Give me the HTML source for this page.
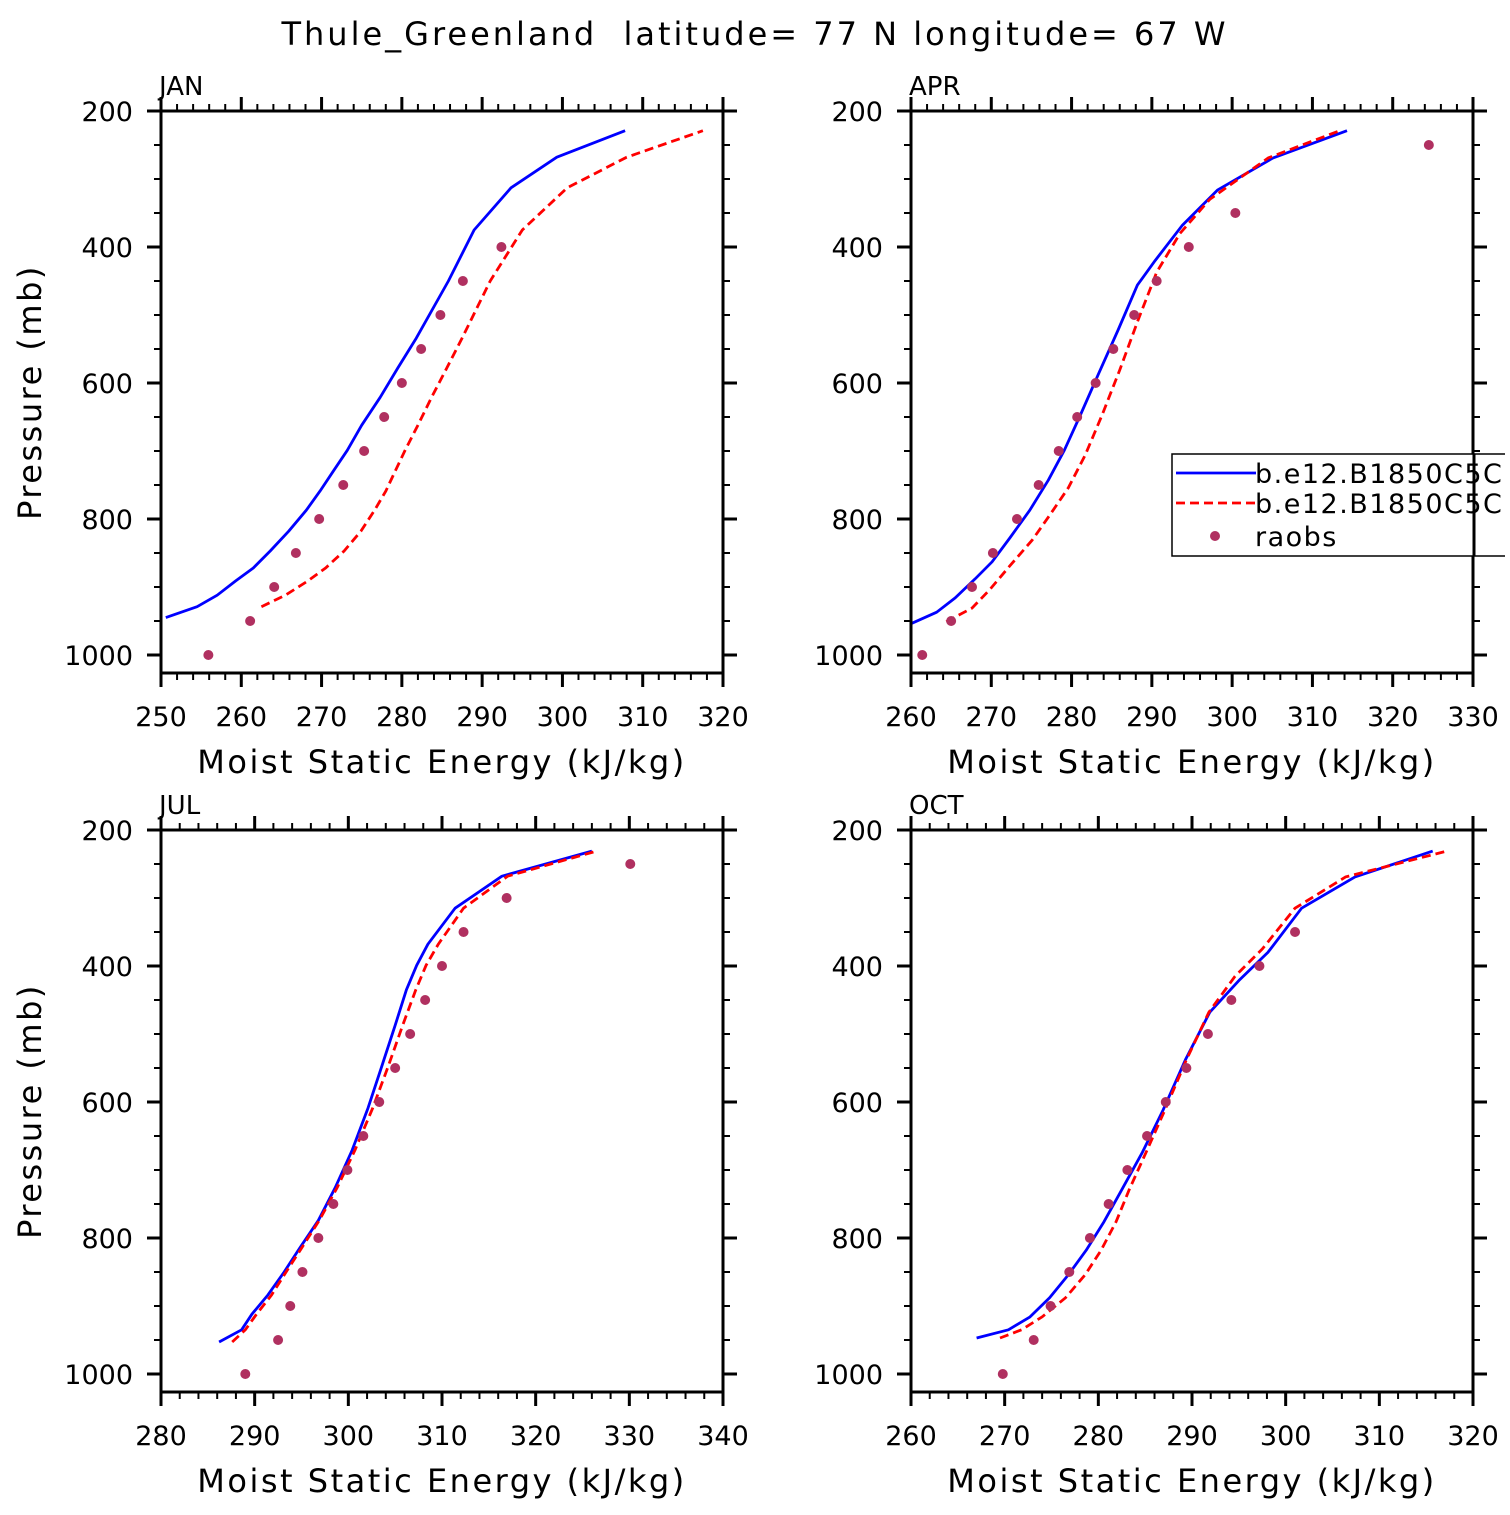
<!DOCTYPE html>
<html><head><meta charset="utf-8"><style>
body{margin:0;background:#fff}
svg text{font-family:"DejaVu Sans","Liberation Sans",sans-serif;fill:#000}
</style></head><body>
<svg id="c" width="1510" height="1510" viewBox="0 0 1510 1510">
<defs><clipPath id="legclip"><rect x="1160" y="440" width="345" height="130"/></clipPath></defs>
<text x="755" y="45" font-size="32" text-anchor="middle" letter-spacing="3" xml:space="preserve">Thule_Greenland  latitude= 77 N longitude= 67 W</text>
</svg>
<script>
const panelNames=["JAN","APR","JUL","OCT"];
const xRanges=[[250,320],[260,330],[280,340],[260,320]];
const obsP=[1000,950,900,850,800,750,700,650,600,550,500,450,400,350,300,250];
const obsJAN=[255.9,261.1,264.1,266.8,269.7,272.7,275.3,277.8,280.0,282.4,284.8,287.6,292.4];
const obsAPR=[261.4,265.0,267.6,270.2,273.2,275.9,278.4,280.7,283.0,285.2,287.8,290.6,294.6,300.4,null,324.5];
const obsJUL=[289.0,292.5,293.8,295.1,296.8,298.4,299.9,301.6,303.3,305.0,306.6,308.2,310.0,312.3,316.9,330.1];
const obsOCT=[269.8,273.1,274.9,276.9,279.1,281.1,283.1,285.2,287.2,289.4,291.7,294.2,297.2,301.0];
const pJAN=[945,929,912,891,872,847,818,787,759,729,699,662,621,578,534,450,375,313,268,229];
const blueJAN=[250.6,254.5,257.0,259.3,261.5,263.6,265.9,268.1,269.8,271.5,273.2,275.0,277.3,279.5,281.8,285.8,289.0,293.6,299.3,307.8];
const redJAN=[null,262.5,265.5,268.3,270.5,272.8,274.9,276.6,278.0,279.2,280.4,282.0,283.7,285.6,287.5,291.0,295.0,300.6,308.0,317.5];
const pAPRb=[954,937,916,888,863,828,787,743,699,647,588,522,456,420,368,316,269,229];
const blueAPR=[260.0,263.2,265.5,268.0,270.1,272.3,274.8,277.1,279.1,281.1,283.3,285.8,288.2,290.4,293.8,298.2,305.1,314.3];
const pAPRr=[951,931,904,869,831,794,754,706,647,581,507,437,380,330,269,229];
const redAPR=[264.4,267.6,269.8,272.3,275.1,277.3,279.6,281.7,283.8,286.0,288.3,290.6,293.5,297.2,304.5,313.4];
const pJUL=[953,935,912,884,851,815,774,726,671,609,546,487,435,399,368,315,268,231];
const blueJUL=[286.2,288.6,289.7,291.4,293.1,294.8,296.8,298.6,300.4,302.1,303.6,305.0,306.2,307.3,308.5,311.4,316.4,326.0];
const redJUL=[287.6,289.0,290.2,291.8,293.3,295.0,296.9,298.8,300.7,302.6,304.3,305.8,307.2,308.3,309.6,312.3,317.0,326.5];
const pOCTb=[947,935,916,888,854,818,776,729,674,612,538,468,420,380,315,269,231];
const blueOCT=[267.0,270.4,272.7,274.8,276.8,278.7,280.6,282.5,284.7,286.9,289.3,291.9,295.1,298.1,301.7,307.4,315.7];
const pOCTr=[947,935,916,888,854,818,776,729,674,612,538,468,415,375,315,269,231];
const redOCT=[269.5,271.8,274.0,276.5,278.6,280.3,281.9,283.3,285.1,287.1,289.4,291.8,294.6,297.5,301.0,306.4,317.2];
const yTicks=[200,400,600,800,1000];

const series=[
 {b:[pJAN,blueJAN],r:[pJAN,redJAN],o:obsJAN},
 {b:[pAPRb,blueAPR],r:[pAPRr,redAPR],o:obsAPR},
 {b:[pJUL,blueJUL],r:[pJUL,redJUL],o:obsJUL},
 {b:[pOCTb,blueOCT],r:[pOCTr,redOCT],o:obsOCT}];
const svg=document.getElementById('c');
const NS='http://www.w3.org/2000/svg';
function mk(t,a,parent){const e=document.createElementNS(NS,t);for(const k in a)e.setAttribute(k,a[k]);(parent||svg).appendChild(e);return e;}
const origins=[[161,111],[911,111],[161,830],[911,830]];
const W=562,H=562;
panelNames.forEach((nm,i)=>{
 const [x0,y0]=origins[i];const [xa,xb]=xRanges[i];
 const g=mk('g',{});
 
 
 const sx=v=>x0+(v-xa)/(xb-xa)*W;
 const sy=p=>y0+(p-200)*0.68;
 const clipId='clip'+i;
 const cp=mk('clipPath',{id:clipId},g);mk('rect',{x:x0,y:y0,width:W,height:H},cp);
 for(let v=xa;v<=xb;v+=2){const maj=(v%10===0);const L=maj?14:7;const X=sx(v);
  const t1=mk('line',{x1:X,y1:y0,x2:X,y2:y0-L,stroke:'#000','stroke-width':maj?3:2},g);
  
  const t2=mk('line',{x1:X,y1:y0+H,x2:X,y2:y0+H+L,stroke:'#000','stroke-width':maj?3:2},g);
  
  if(maj){const tx=mk('text',{x:X,y:y0+H+53,'font-size':27,'text-anchor':'middle'},g);tx.textContent=v;
   }
 }
 for(let p=200;p<=1025;p+=50){const maj=(p%200===0);const L=maj?14:7;const Y=sy(p);
  const t1=mk('line',{x1:x0,y1:Y,x2:x0-L,y2:Y,stroke:'#000','stroke-width':maj?3:2},g);
  
  const t2=mk('line',{x1:x0+W,y1:Y,x2:x0+W+L,y2:Y,stroke:'#000','stroke-width':maj?3:2},g);
  
 }
 yTicks.forEach(p=>{const tx=mk('text',{x:x0-28,y:sy(p)+10,'font-size':27,'text-anchor':'end'},g);tx.textContent=p;
  });
 const lbl=mk('text',{x:x0-2,y:y0-16,'font-size':26},g);lbl.textContent=nm;
 
 const xt=mk('text',{x:x0+W/2,y:y0+H+100,'font-size':32,'text-anchor':'middle','letter-spacing':2.5},g);xt.textContent='Moist Static Energy (kJ/kg)';
 
 if(i%2===0){const yt=mk('text',{x:0,y:0,'font-size':32,'text-anchor':'middle','letter-spacing':2.5,transform:`translate(${x0-120},${y0+H/2}) rotate(-90)`},g);yt.textContent='Pressure (mb)';
  }
 const s=series[i];
 const dl=g.appendChild(document.createElementNS(NS,'g'));dl.setAttribute('clip-path',`url(#${clipId})`);
 const path=(ps,vs)=>{let d='';ps.forEach((p,k)=>{if(vs[k]==null)return;d+=(d?'L':'M')+sx(vs[k]).toFixed(1)+','+sy(p).toFixed(1);});return d;};
 const bl=mk('path',{d:path(s.b[0],s.b[1]),fill:'none',stroke:'#0000ff','stroke-width':2.8,'stroke-linejoin':'round'},dl);
 
 const rl=mk('path',{d:path(s.r[0],s.r[1]),fill:'none',stroke:'#ff0000','stroke-width':2.8,'stroke-dasharray':'9,5'},dl);
 
 s.o.forEach((v,k)=>{if(v==null)return;const c=mk('circle',{cx:sx(v),cy:sy(obsP[k]),r:5,fill:'#b03060'},dl);
  });
 const bx=mk('rect',{x:x0,y:y0,width:W,height:H,fill:'none',stroke:'#000','stroke-width':3},g);
 
});
const lg=mk('g',{'clip-path':'url(#legclip)'});


mk('rect',{x:1172,y:454,width:360,height:102,fill:'#fff',stroke:'#000','stroke-width':1.5},lg);
mk('line',{x1:1474,y1:454,x2:1474,y2:556,stroke:'#000','stroke-width':3},lg);
const e1=mk('line',{x1:1176,y1:473,x2:1256,y2:473,stroke:'#0000ff','stroke-width':2.8},lg);

const e2=mk('line',{x1:1176,y1:503,x2:1256,y2:503,stroke:'#ff0000','stroke-width':2.8,'stroke-dasharray':'9,5'},lg);

const e3=mk('circle',{cx:1215,cy:536,r:5,fill:'#b03060'},lg);

[['b.e12.B1850C5CN',483],['b.e12.B1850C5CN',513],['raobs',546]].forEach(([t,y])=>{const tx=mk('text',{x:1255,y:y,'font-size':27,'letter-spacing':1.5},lg);tx.textContent=t;
 });
</script>
</body></html>
